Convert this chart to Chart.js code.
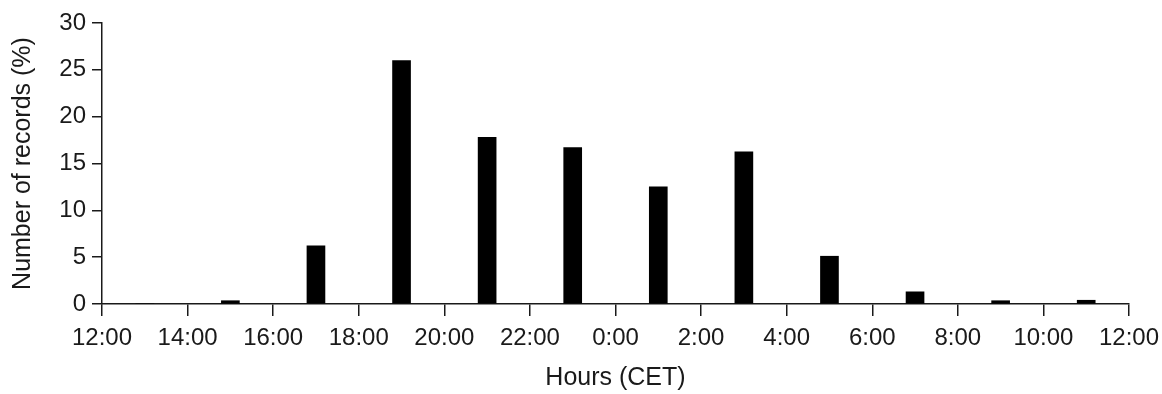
<!DOCTYPE html>
<html>
<head>
<meta charset="utf-8">
<script src="https://cdn.jsdelivr.net/npm/chart.js@4"></script>
<style>
  html, body { margin: 0; padding: 0; background: #fff; }
  #wrap { width: 1162px; height: 394px; }
</style>
</head>
<body>
<div id="wrap"><canvas id="myChart" width="1162" height="394"></canvas></div>
<script>
// hours (CET) of each bar and the share of records in it
const hours = ['13:00', '15:00', '17:00', '19:00', '21:00', '23:00', '1:00', '3:00', '5:00', '7:00', '9:00', '11:00'];
const records = [0, 0.35, 6.2, 26.0, 17.8, 16.7, 12.5, 16.25, 5.1, 1.3, 0.35, 0.4];

// axis runs from 12:00 to 12:00 next day
const startHour = 12;
const yTicks = [0, 5, 10, 15, 20, 25, 30];

const points = hours.map(function (h, i) {
    let v = parseInt(h) - startHour;
    if (v < 0) v += 24;
    return { x: v, y: records[i] };
});

const ink = '#1a1a1a';

const ctx = document.querySelector('#myChart').getContext('2d');
const myChart = new Chart(ctx, {
    type: 'bar',
    data: {
        datasets: [{
            label: 'Number of records (%)',
            data: points,
            backgroundColor: '#000',
            borderWidth: 0,
            barThickness: 18
        }]
    },
    options: {
        responsive: false,
        animation: false,
        layout: {
            padding: { top: 23, right: 33, bottom: 0, left: 0 }
        },
        plugins: {
            legend: { display: false },
            tooltip: { enabled: false }
        },
        scales: {
            x: {
                type: 'linear',
                min: 0,
                max: 24,
                offset: false,
                afterFit: function (scale) {
                    scale.height = 90;
                    scale.paddingLeft = 0;
                    scale.paddingRight = 0;
                },
                afterBuildTicks: function (scale) {
                    scale.ticks = [];
                    for (let v = 0; v <= 24; v += 2) scale.ticks.push({ value: v });
                },
                grid: {
                    display: true,
                    offset: false,
                    drawOnChartArea: false,
                    drawTicks: true,
                    tickLength: 12,
                    color: ink,
                    lineWidth: 1.5
                },
                border: { display: true, color: ink, width: 1.5 },
                ticks: {
                    color: ink,
                    padding: 8,
                    maxRotation: 0,
                    autoSkip: false,
                    font: { family: 'Liberation Sans', size: 24 },
                    callback: function (v) { return ((v + startHour) % 24) + ':00'; }
                },
                title: {
                    display: true,
                    text: 'Hours (CET)',
                    color: ink,
                    padding: { top: 0, bottom: 1 },
                    font: { family: 'Liberation Sans', size: 25 }
                }
            },
            y: {
                min: 0,
                max: 30,
                afterFit: function (scale) { scale.width = 102; },
                afterBuildTicks: function (scale) {
                    scale.ticks = yTicks.map(function (v) { return { value: v }; });
                },
                grid: {
                    display: true,
                    drawOnChartArea: false,
                    drawTicks: true,
                    tickLength: 10,
                    color: ink,
                    lineWidth: 1.5
                },
                border: { display: true, color: ink, width: 1.5 },
                ticks: {
                    color: ink,
                    padding: 6,
                    font: { family: 'Liberation Sans', size: 24 }
                },
                title: {
                    display: true,
                    text: 'Number of records (%)',
                    color: ink,
                    padding: { top: 8, bottom: 0 },
                    font: { family: 'Liberation Sans', size: 25 }
                }
            }
        }
    }
});
</script>
</body>
</html>
